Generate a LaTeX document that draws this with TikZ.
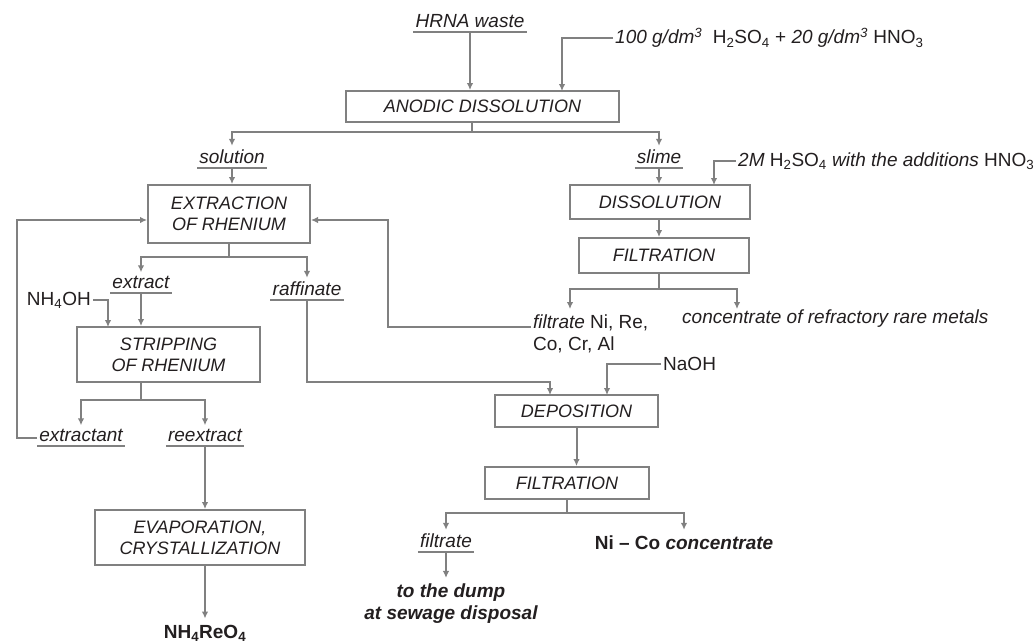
\documentclass[tikz,border=0pt]{standalone}
\usepackage{fontspec}
\setmainfont{Liberation Sans}
\usepackage{tikz}
\usetikzlibrary{arrows.meta}

\definecolor{linegray}{RGB}{128,128,128}
\definecolor{inkgray}{RGB}{35,31,32}
\newcommand{\boxfont}{\fontsize{18}{21}\selectfont\itshape}
\newcommand{\lblfont}{\fontsize{19}{22}\selectfont}

\begin{document}
\begin{tikzpicture}[x=1pt,y=-1pt,>={Latex[length=7pt,width=6.5pt]}]
      \tikzstyle{line} = [draw=linegray, line width=2pt]
      \tikzstyle{arr} = [line, ->]
      \tikzstyle{tolbl} = [shorten >=4pt]
      \tikzstyle{uline} = [draw=linegray, line width=1.8pt]
      \tikzstyle{proc} = [draw=linegray, line width=2pt, text=inkgray, font=\boxfont, align=center, inner sep=0pt]
      \tikzstyle{lbl} = [text=inkgray, font=\lblfont\itshape, inner xsep=2pt, inner ysep=0pt, text depth=4pt]
      \tikzstyle{txt} = [text=inkgray, font=\lblfont, inner sep=2pt]
      \fill[white] (0,0) rectangle (1036,643);
      \useasboundingbox (0,0) rectangle (1036,643);

      %boxes
      \node[proc, minimum width=273, minimum height=31] (anod) at (482.5,106.5) {ANODIC DISSOLUTION};
      \node[proc, minimum width=162, minimum height=58] (extr) at (229,214) {EXTRACTION\\OF RHENIUM};
      \node[proc, minimum width=183, minimum height=55] (strip) at (168.5,354.5) {STRIPPING\\OF RHENIUM};
      \node[proc, minimum width=210, minimum height=55] (evap) at (200,537.5) {EVAPORATION,\\CRYSTALLIZATION};
      \node[proc, minimum width=180, minimum height=34] (diss) at (660,202) {DISSOLUTION};
      \node[proc, minimum width=170, minimum height=35] (filt1) at (664,255.5) {FILTRATION};
      \node[proc, minimum width=163, minimum height=32] (depo) at (576.5,411) {DEPOSITION};
      \node[proc, minimum width=164, minimum height=32] (filt2) at (567,483) {FILTRATION};

      %labels
      \node[lbl, anchor=south] (hrna) at (470,32) {HRNA waste};
      \node[lbl, anchor=south] (sol) at (232,168) {solution};
      \node[lbl, anchor=south] (slime) at (659,168) {slime};
      \node[lbl, anchor=south] (ext) at (141,293) {extract};
      \node[lbl, anchor=south] (raff) at (307,300) {raffinate};
      \node[lbl, anchor=south] (extant) at (81,446) {extractant};
      \node[lbl, anchor=south] (reext) at (205,446) {reextract};
      \node[lbl, anchor=south] (filtr) at (446,552) {filtrate};
      \draw[uline] (hrna.south west) -- (hrna.south east);
      \draw[uline] (sol.south west) -- (sol.south east);
      \draw[uline] (slime.south west) -- (slime.south east);
      \draw[uline] (ext.south west) -- (ext.south east);
      \draw[uline] (raff.south west) -- (raff.south east);
      \draw[uline] (extant.south west) -- (extant.south east);
      \draw[uline] (reext.south west) -- (reext.south east);
      \draw[uline] (filtr.south west) -- (filtr.south east);

      %texts
      \node[txt, anchor=west] (acid) at (613,38) {\textit{100 g/dm\textsuperscript{3}}\ \ H\textsubscript{2}SO\textsubscript{4} + \textit{20 g/dm\textsuperscript{3}} HNO\textsubscript{3}};
      \node[txt, anchor=west] (acid2) at (736,161) {\textit{2M} H\textsubscript{2}SO\textsubscript{4} \textit{with the additions} HNO\textsubscript{3}};
      \node[txt, anchor=east] (nh4oh) at (93,300) {NH\textsubscript{4}OH};
      \node[txt, anchor=west, align=left] (fni) at (531,333.5) {\textit{filtrate} Ni, Re,\\Co, Cr, Al};
      \node[txt, anchor=west] (conc) at (680,319) {\textit{concentrate of refractory rare metals}};
      \node[txt, anchor=west] (naoh) at (661,364) {NaOH};
      \node[txt, align=center, font=\lblfont\bfseries\itshape] (dump) at (451,604) {to the dump\\at sewage disposal};
      \node[txt, font=\lblfont\bfseries] (nire) at (205,633) {NH\textsubscript{4}ReO\textsubscript{4}};
      \node[txt, font=\lblfont\bfseries] (nico) at (684,543) {Ni -- Co \textit{concentrate}};

      %entry points
      \coordinate (acidin) at (562,91);
      \coordinate (anodsplit) at (472,132);
      \coordinate (dissin) at (714,185);
      \coordinate (nhin) at (108,327);
      \coordinate (raffin) at (550,395);
      \coordinate (naohin) at (607,395);
      \coordinate (fniin) at (570,309);
      \coordinate (concin) at (737,309);

      %lines
      \draw[arr] (hrna.south) -- (hrna.south |- anod.north);
      \draw[arr] (acid.west) -| (acidin);
      \draw[line] (anod.south -| anodsplit) -- (anodsplit);
      \draw[arr, tolbl] (anodsplit) -| (sol.north);
      \draw[arr, tolbl] (anodsplit) -| (slime.north);
      \draw[arr] (sol.south) -- (sol.south |- extr.north);
      \draw[arr, tolbl] (extr.south) -- ++(0,13) -| (ext.north);
      \draw[arr, tolbl] (extr.south) -- ++(0,13) -| (raff.north);
      \draw[arr] (nh4oh.east) -| (nhin);
      \draw[arr] (ext.south) -- (ext.south |- strip.north);
      \draw[arr, tolbl] (ext.south |- strip.south) -- ++(0,17) -| (extant.north);
      \draw[arr, tolbl] (ext.south |- strip.south) -- ++(0,17) -| (reext.north);
      \draw[arr] (extant.west) -- ++(-20,0) |- ([yshift=-6pt]extr.west);
      \draw[arr] (reext.south) -- (reext.south |- evap.north);
      \draw[arr, tolbl] (nire.north |- evap.south) -- (nire.north);
      \draw[arr] (raff.south) -- ++(0,82) -| (raffin);
      \draw[arr] (slime.south) -- (slime.south |- diss.north);
      \draw[arr] (acid2.west) -| (dissin);
      \draw[arr] (slime.south |- diss.south) -- (slime.south |- filt1.north);
      \draw[arr] (slime.south |- filt1.south) -- ++(0,15) -| (fniin);
      \draw[arr] (slime.south |- filt1.south) -- ++(0,15) -| (concin);
      \draw[arr] ([yshift=6.5pt]fni.west) -- ++(-143,0) |- ([yshift=-6pt]extr.east);
      \draw[arr] (naoh.west) -| (naohin);
      \draw[arr] (depo.south) -- (depo.south |- filt2.north);
      \draw[arr, tolbl] (filt2.south) -- ++(0,13) -| (filtr.north);
      \draw[arr, tolbl] (filt2.south) -- ++(0,13) -| (nico.north);
      \draw[arr, tolbl] (filtr.south) -- (filtr.south |- dump.north);
\end{tikzpicture}
\end{document}
